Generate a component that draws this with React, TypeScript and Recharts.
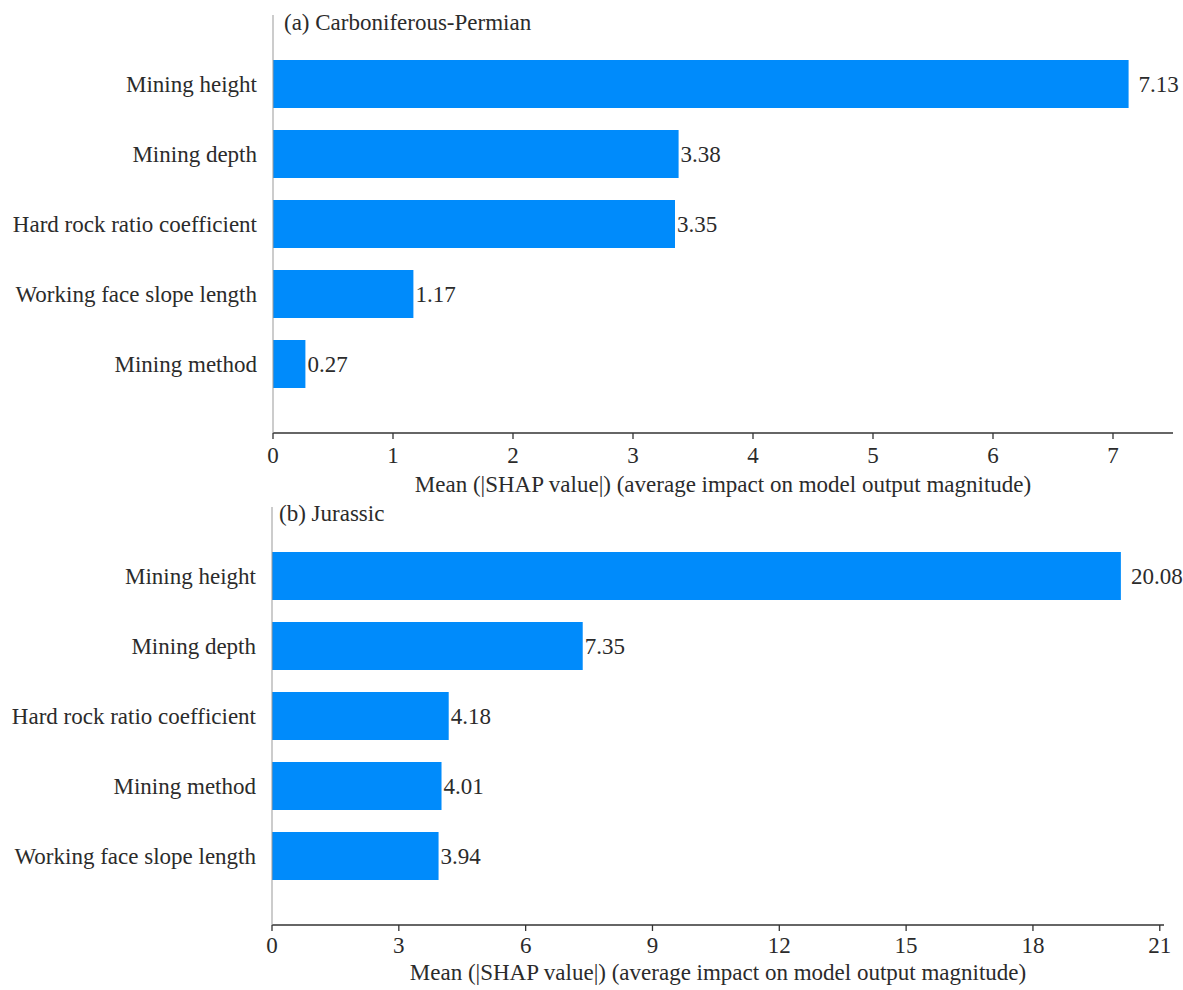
import React from "react";
import { BarChart, Bar, XAxis, YAxis, LabelList, Label } from "recharts";

const topFeatures = [
  "Mining height",
  "Mining depth",
  "Hard rock ratio coefficient",
  "Working face slope length",
  "Mining method",
];
const topValues = [7.13, 3.38, 3.35, 1.17, 0.27];
const topTicks = [0, 1, 2, 3, 4, 5, 6, 7];

const bottomFeatures = [
  "Mining height",
  "Mining depth",
  "Hard rock ratio coefficient",
  "Mining method",
  "Working face slope length",
];
const bottomValues = [20.08, 7.35, 4.18, 4.01, 3.94];
const bottomTicks = [0, 3, 6, 9, 12, 15, 18, 21];

const xLabel = "Mean (|SHAP value|) (average impact on model output magnitude)";
const topTitle = "(a) Carboniferous-Permian";
const bottomTitle = "(b) Jurassic";

const FONT = '"Liberation Serif", "Times New Roman", serif';
const BLUE = "#008bfb";
const TEXT = "#2b2b2b";

const topData = topFeatures.map((f, i) => ({ feature: f, value: topValues[i] }));
const bottomData = bottomFeatures.map((f, i) => ({ feature: f, value: bottomValues[i] }));

const ValueLabel = (props: any) => {
  const { x, y, width, height, value, index } = props;
  const off = index === 0 ? 10 : 2;
  return (
    <text
      x={Number(x) + Number(width) + off}
      y={Number(y) + Number(height) / 2}
      dominantBaseline="central"
      fontSize={23}
      fontFamily={FONT}
      fill={TEXT}
    >
      {Number(value).toFixed(2)}
    </text>
  );
};

type PanelProps = {
  data: { feature: string; value: number }[];
  domain: [number, number];
  ticks: number[];
  width: number;
  height: number;
  margin: { top: number; right: number; left: number; bottom: number };
  yWidth: number;
  xHeight: number;
  labelOffset: number;
  tickGap: number;
};

const Panel = ({ data, domain, ticks, width, height, margin, yWidth, xHeight, labelOffset, tickGap }: PanelProps) => (
  <BarChart
    width={width}
    height={height}
    data={data}
    layout="vertical"
    margin={margin}
    style={{ fontFamily: FONT }}
  >
    <XAxis
      type="number"
      dataKey="value"
      domain={domain}
      ticks={ticks}
      allowDataOverflow
      height={xHeight}
      stroke="#333"
      strokeWidth={1.3}
      tickSize={6}
      tickMargin={tickGap}
      tick={{ fontSize: 23, fill: TEXT, fontFamily: FONT }}
    >
      <Label
        value={xLabel}
        position="insideBottom"
        offset={labelOffset}
        style={{ fontSize: 23, fill: TEXT, fontFamily: FONT }}
      />
    </XAxis>
    <YAxis
      type="category"
      dataKey="feature"
      width={yWidth}
      stroke="#999"
      tickLine={false}
      tickSize={8}
      tickMargin={8}
      padding={{ top: 34, bottom: 34 }}
      tick={{ fontSize: 23, fill: TEXT, fontFamily: FONT }}
      interval={0}
    />
    <Bar dataKey="value" fill={BLUE} barSize={48} isAnimationActive={false}>
      <LabelList dataKey="value" content={<ValueLabel />} />
    </Bar>
  </BarChart>
);

export default function App() {
  return (
    <div style={{ position: "absolute", left: 0, top: 0, width: 1183, height: 990, background: "#fff" }}>
      <div style={{ position: "absolute", left: 0, top: 0 }}>
        <Panel
          data={topData}
          domain={[0, 7.5]}
          ticks={topTicks}
          width={1183}
          height={500}
          margin={{ top: 15, right: 10, left: 0, bottom: 0 }}
          yWidth={273}
          xHeight={67}
          labelOffset={8}
          tickGap={8}
        />
      </div>
      <div style={{ position: "absolute", left: 0, top: 500 }}>
        <Panel
          data={bottomData}
          domain={[0, 21.1]}
          ticks={bottomTicks}
          width={1183}
          height={490}
          margin={{ top: 7, right: 19, left: 0, bottom: 0 }}
          yWidth={272}
          xHeight={65}
          labelOffset={10}
          tickGap={6}
        />
      </div>
      <svg
        width={1183}
        height={990}
        style={{ position: "absolute", left: 0, top: 0, pointerEvents: "none" }}
      >
        <text x={284} y={30} fontSize={23} fontFamily={FONT} fill={TEXT}>
          {topTitle}
        </text>
        <text x={279} y={521} fontSize={23} fontFamily={FONT} fill={TEXT}>
          {bottomTitle}
        </text>
      </svg>
    </div>
  );
}
